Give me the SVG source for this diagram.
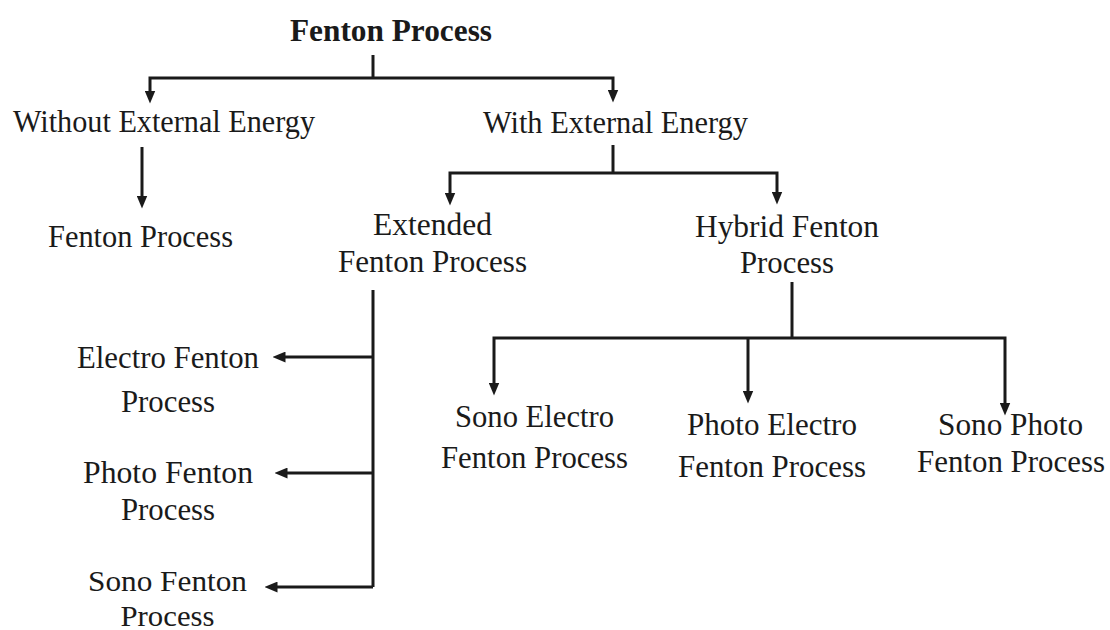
<svg xmlns="http://www.w3.org/2000/svg" width="1110" height="630" viewBox="0 0 1110 630">
<style>
text{font-family:"Liberation Serif","Times New Roman",serif;font-size:32px;fill:#1a1a1a;text-anchor:middle}
.b{font-weight:bold}
.s{font-size:29px}
.c{fill:none;stroke:#1a1a1a;stroke-width:3;stroke-linejoin:miter}
.a{marker-end:url(#ah)}
</style>
<defs>
<marker id="ah" viewBox="0 0 12 10" refX="6" refY="5" markerWidth="13" markerHeight="11" markerUnits="userSpaceOnUse" orient="auto">
<path d="M0,0 L12,5 L0,10 z" fill="#1a1a1a"/>
</marker>
</defs>
<rect width="1110" height="630" fill="#ffffff"/>
<g id="connectors">
<path class="c" d="M373,55 V78"/>
<path class="c a" d="M373,78 H150 V97"/>
<path class="c a" d="M373,78 H613 V96"/>
<path class="c a" d="M142,147 V202"/>
<path class="c" d="M613,145 V173"/>
<path class="c a" d="M613,173 H450 V199"/>
<path class="c a" d="M613,173 H777 V198"/>
<path class="c" d="M373,290 V587"/>
<path class="c a" d="M373,357 H279"/>
<path class="c a" d="M373,473 H281"/>
<path class="c a" d="M373,587 H271"/>
<path class="c" d="M792,282 V338"/>
<path class="c a" d="M792,338 H494 V389"/>
<path class="c a" d="M748,338 V397"/>
<path class="c a" d="M792,338 H1005 V409"/>
</g>
<g id="n-root"><text class="b" x="391" y="41" textLength="202" lengthAdjust="spacingAndGlyphs">Fenton Process</text></g>
<g id="n-without"><text x="164" y="132" textLength="302" lengthAdjust="spacingAndGlyphs">Without External Energy</text></g>
<g id="n-with"><text x="615.5" y="133" textLength="265" lengthAdjust="spacingAndGlyphs">With External Energy</text></g>
<g id="n-fenton"><text x="140.5" y="247" textLength="185" lengthAdjust="spacingAndGlyphs">Fenton Process</text></g>
<g id="n-extended"><text x="432.5" y="235" textLength="119" lengthAdjust="spacingAndGlyphs">Extended</text><text x="432.5" y="272" textLength="189" lengthAdjust="spacingAndGlyphs">Fenton Process</text></g>
<g id="n-hybrid"><text x="787" y="237" textLength="184" lengthAdjust="spacingAndGlyphs">Hybrid Fenton</text><text x="787" y="273" textLength="94" lengthAdjust="spacingAndGlyphs">Process</text></g>
<g id="n-electro"><text x="168" y="368" textLength="182" lengthAdjust="spacingAndGlyphs">Electro Fenton</text><text x="168" y="412" textLength="94" lengthAdjust="spacingAndGlyphs">Process</text></g>
<g id="n-photo"><text x="168" y="483" textLength="170" lengthAdjust="spacingAndGlyphs">Photo Fenton</text><text x="168" y="520" textLength="94" lengthAdjust="spacingAndGlyphs">Process</text></g>
<g id="n-sono"><text class="s" x="167.5" y="591" textLength="159" lengthAdjust="spacingAndGlyphs">Sono Fenton</text><text class="s" x="167.5" y="626" textLength="94" lengthAdjust="spacingAndGlyphs">Process</text></g>
<g id="n-sonoelectro"><text x="534.5" y="427" textLength="159" lengthAdjust="spacingAndGlyphs">Sono Electro</text><text x="534.5" y="468" textLength="187" lengthAdjust="spacingAndGlyphs">Fenton Process</text></g>
<g id="n-photoelectro"><text x="772" y="435" textLength="170" lengthAdjust="spacingAndGlyphs">Photo Electro</text><text x="772" y="477" textLength="188" lengthAdjust="spacingAndGlyphs">Fenton Process</text></g>
<g id="n-sonophoto"><text x="1010.5" y="435" textLength="145" lengthAdjust="spacingAndGlyphs">Sono Photo</text><text x="1011" y="472" textLength="188" lengthAdjust="spacingAndGlyphs">Fenton Process</text></g>
</svg>
